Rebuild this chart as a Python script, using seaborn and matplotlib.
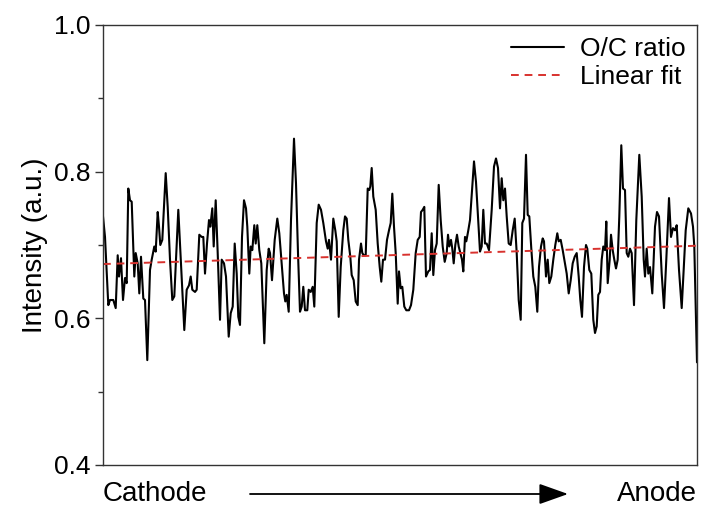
import numpy as np
import pandas as pd
import seaborn as sns
import matplotlib.pyplot as plt
from matplotlib.ticker import MultipleLocator

# position along the sample (a.u.) and O/C ratio intensity
pos = [0, 2, 5.3, 7, 10.3, 12.7, 14.7, 16, 18, 20, 22, 23.7, 25.3, 27, 28.7, 31.3, 32.7, 34.7, 36.3, 38,
       40.3, 42, 44.3, 47, 48.7, 51.3, 52.7, 54.7, 56, 57.3, 59.3, 62.7, 64.7, 67, 69.3, 71.3, 75.3, 78, 81.3, 83.7,
       86, 87.7, 89.3, 92, 93.7, 96.3, 98.7, 100.3, 102, 104, 106, 107.3, 109.3, 110.7, 112.7, 114.7,
       117, 118.7, 121, 123, 125.7, 127.7, 129.7, 131.7, 133.7, 135.3, 137, 139, 141, 143, 144.3,
       146.3, 147.7, 149.3, 151.3, 152.7, 154.3, 156.3, 158.3, 161.3, 163.7, 165.7, 167, 169, 171.7, 174.3,
       176.3, 178.7, 181, 182.3, 183.7, 185.7, 188, 191, 193, 195, 197, 198.7, 200.3, 202, 204.3,
       205.7, 207.7, 209.7, 211.3, 213.7, 215.7, 218, 220.3, 223, 224.7, 226, 228, 230.3, 232.3, 233.7,
       235.7, 237.7, 240.3,
       242, 243.7, 245.3, 247.3, 248.7, 250.7, 252.7, 254.7, 256, 258, 259.3, 260.7, 262.7, 264.7, 266.3,
       267.3, 268.7, 270.3, 272.7, 274.7, 276.7, 278.3, 280, 282, 284, 286, 287.7, 289.3, 291, 292.7,
       294.7, 296, 297.7, 299.3, 301.3, 303.3, 306, 308, 310.3, 312.7, 314.7, 316.7, 318, 319.7, 321.3,
       323, 325.3, 327, 328.7, 330.3, 332, 333.7, 335.7, 337.7, 339.7, 341.7, 343.7, 345, 346.3, 348,
       349.3, 350.7, 352.3, 354, 355.7, 357.3, 359, 360.3, 362, 363.3, 365.3,
       367, 371, 373, 375, 377, 378.7, 380.3, 382, 383.7, 386, 388.7, 391, 393, 395, 397,
       398.7, 400.3, 402, 403.7, 405.7, 407.7, 409.7, 411.7, 413.7, 415.7, 417.7, 419.3, 421, 423, 424.7,
       426.3, 428.3, 430.3, 432.3, 434.3, 436, 438, 439.7, 441, 443, 444.7, 446.3, 448.3, 450.3, 452.3,
       454.3, 455.7, 457.7, 459.7, 462, 463.7, 465.7, 467.7, 469.7, 471.7, 473.7, 475.7, 477.3, 479, 481,
       483, 484.3, 486.3, 488.3, 490.3,
       492, 493.7, 495.3, 497, 498.7, 500.3, 502, 503.3, 504.7, 506.7, 508, 509.7, 511.3, 513, 514.7,
       516.3, 518.3, 520, 522, 523.7, 525.3, 527, 528.7, 531, 533.3, 536.3, 538.7, 540.7, 542, 543.7,
       545.3, 547, 549.3, 552, 554, 556, 558.7, 561, 563.3, 566, 568, 570, 572, 573.7, 576,
       578.7, 580.7, 582.7, 585.3, 588, 590, 591.3, 594]

oc_ratio = [0.739, 0.711, 0.618, 0.625, 0.625, 0.614, 0.686, 0.657, 0.682, 0.625, 0.655, 0.648, 0.777, 0.761, 0.759,
            0.657, 0.689, 0.675, 0.634, 0.684, 0.627, 0.625, 0.543, 0.666, 0.680, 0.698, 0.691, 0.745, 0.725, 0.700,
            0.707, 0.798, 0.752, 0.680, 0.625, 0.630, 0.748, 0.675, 0.584, 0.639, 0.645, 0.657, 0.639, 0.636, 0.639,
            0.714, 0.711, 0.711, 0.661, 0.702, 0.734, 0.725, 0.750, 0.698, 0.761, 0.689,
            0.598, 0.680, 0.675, 0.657, 0.575, 0.607, 0.616, 0.702, 0.661, 0.602, 0.591, 0.711, 0.761, 0.750, 0.725,
            0.661, 0.698, 0.693, 0.727, 0.702, 0.727, 0.693, 0.675, 0.566, 0.666, 0.695, 0.689, 0.652, 0.707, 0.736,
            0.716, 0.675, 0.634, 0.623, 0.632, 0.609, 0.734, 0.845, 0.784, 0.689, 0.609, 0.616, 0.643, 0.611, 0.611,
            0.639, 0.636, 0.643, 0.616, 0.730, 0.755, 0.748, 0.730, 0.705, 0.695, 0.707, 0.680, 0.736, 0.720, 0.705,
            0.602, 0.670, 0.720,
            0.739, 0.736, 0.707, 0.684, 0.659, 0.652, 0.623, 0.618, 0.680, 0.702, 0.689, 0.686, 0.686, 0.777, 0.775,
            0.780, 0.805, 0.766, 0.748, 0.702, 0.670, 0.650, 0.680, 0.680, 0.707, 0.720, 0.730, 0.770, 0.725, 0.689,
            0.620, 0.664, 0.641, 0.643, 0.616, 0.611, 0.611, 0.618, 0.639, 0.689, 0.707, 0.711, 0.745, 0.748, 0.752,
            0.657, 0.664, 0.666, 0.716, 0.659, 0.693, 0.702, 0.782, 0.734, 0.698, 0.677, 0.689, 0.714, 0.698, 0.707,
            0.695, 0.675, 0.700, 0.714, 0.698, 0.689, 0.680, 0.664, 0.711, 0.705, 0.720,
            0.734, 0.814, 0.786, 0.739, 0.691, 0.698, 0.748, 0.702, 0.702, 0.693, 0.748, 0.807, 0.818, 0.805, 0.750,
            0.791, 0.761, 0.777, 0.739, 0.702, 0.700, 0.720, 0.736, 0.689, 0.625, 0.598, 0.730, 0.736, 0.823, 0.741,
            0.739, 0.695, 0.657, 0.643, 0.609, 0.670, 0.698, 0.709, 0.705, 0.657, 0.680, 0.648, 0.657, 0.680, 0.700,
            0.716, 0.705, 0.707, 0.693, 0.675, 0.661, 0.634, 0.652, 0.675, 0.684, 0.689, 0.657, 0.625, 0.602, 0.670,
            0.700, 0.695, 0.666, 0.661, 0.598,
            0.580, 0.589, 0.632, 0.636, 0.680, 0.698, 0.693, 0.732, 0.648, 0.680, 0.714, 0.693, 0.680, 0.668, 0.680,
            0.739, 0.836, 0.777, 0.775, 0.689, 0.684, 0.695, 0.689, 0.618, 0.734, 0.823, 0.766, 0.680, 0.657, 0.695,
            0.661, 0.670, 0.634, 0.725, 0.745, 0.739, 0.661, 0.614, 0.680, 0.764, 0.711, 0.723, 0.720, 0.727, 0.666,
            0.614, 0.666, 0.720, 0.750, 0.743, 0.725, 0.698, 0.540]

# linear fit end points
fit_pos = [0, 594]
fit_vals = [0.674, 0.699]

y_ticks = [0.4, 0.6, 0.8, 1.0]

sns.set_theme(style="ticks")
plt.rcParams['font.family'] = ['Liberation Sans', 'DejaVu Sans']
plt.rcParams.update({'text.color': 'black', 'axes.labelcolor': 'black', 'ytick.labelcolor': 'black'})

df = pd.DataFrame({'pos': pos, 'ratio': oc_ratio})
df_fit = pd.DataFrame({'pos': fit_pos, 'ratio': fit_vals})

fig = plt.figure(figsize=(7.01, 5.07), dpi=100)
ax = fig.add_axes([103 / 701, 1 - 465 / 507, 594 / 701, 440 / 507])

sns.lineplot(data=df, x='pos', y='ratio', ax=ax, color='black', lw=1.5, label='O/C ratio', estimator=None)
sns.lineplot(data=df_fit, x='pos', y='ratio', ax=ax, color='#d8322e', lw=1.4, label='Linear fit',
             linestyle=(0, (4, 3)), estimator=None)

ax.set_xlim(0, 594)
ax.set_ylim(0.4, 1.0)
ax.set_yticks(y_ticks)
ax.set_yticklabels([f'{t:.1f}' for t in y_ticks])
ax.yaxis.set_minor_locator(MultipleLocator(0.1))
ax.set_xticks([])
ax.set_xlabel(None)
ax.set_ylabel('Intensity (a.u.)', fontsize=20, labelpad=4)
ax.tick_params(axis='y', which='major', labelsize=19, length=6, width=1, color='#333333', pad=3)
ax.tick_params(axis='y', which='minor', length=3.5, width=1, color='#333333')
for sp in ax.spines.values():
    sp.set_visible(True)
    sp.set_color('#333333')
    sp.set_linewidth(1.0)

leg = ax.legend(loc='upper right', frameon=False, fontsize=19, handlelength=2.0,
                labelspacing=0.15, handletextpad=0.6, borderaxespad=0.05)

# electrode labels and arrow below the axis
fig.text(103 / 701, 1 - 494 / 507, 'Cathode', fontsize=20, ha='left', va='center')
fig.text(697 / 701, 1 - 494 / 507, 'Anode', fontsize=20, ha='right', va='center')
ax.annotate('', xy=(568 / 701, 1 - 494 / 507), xycoords='figure fraction',
            xytext=(250 / 701, 1 - 494 / 507), textcoords='figure fraction',
            arrowprops=dict(arrowstyle='-|>,head_length=0.9,head_width=0.32', mutation_scale=20,
                            lw=1.3, color='black', shrinkA=0, shrinkB=0))

fig.savefig('out.png', dpi=100)
plt.close()
